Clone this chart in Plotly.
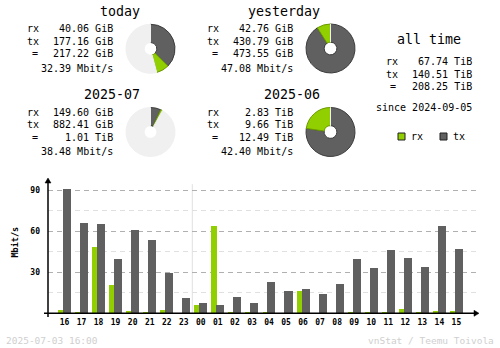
import plotly.graph_objects as go

# ---------------------------------------------------------------- data
hours = ["16", "17", "18", "19", "20", "21", "22", "23", "00", "01", "02", "03",
         "04", "05", "06", "07", "08", "09", "10", "11", "12", "13", "14", "15"]
rx_mbit = [2.4, 1.0, 48.7, 20.9, 1.7, 1.0, 2.4, 0.0, 6.3, 63.9, 1.0, 0.4,
           1.0, 0.0, 16.3, 0.0, 0.0, 1.0, 1.0, 1.0, 3.1, 1.0, 1.7, 1.7]
tx_mbit = [91.0, 66.0, 65.3, 39.7, 61.0, 53.6, 29.7, 11.2, 7.8, 6.3, 11.9, 7.8,
           23.1, 16.3, 17.8, 14.3, 21.7, 39.7, 33.1, 46.3, 40.5, 33.9, 63.9, 47.1]

# summary periods: rx / tx in GiB plus the labels printed next to each donut
period_names = ["today", "yesterday", "2025-07", "2025-06"]
period_rx_gib = [40.06, 42.76, 149.60, 2.83 * 1024]
period_tx_gib = [177.16, 430.79, 882.41, 9.66 * 1024]
period_rx_txt = ["40.06 GiB", "42.76 GiB", "149.60 GiB", "2.83 TiB"]
period_tx_txt = ["177.16 GiB", "430.79 GiB", "882.41 GiB", "9.66 TiB"]
period_sum_txt = ["217.22 GiB", "473.55 GiB", "1.01 TiB", "12.49 TiB"]
period_rate_txt = ["32.39 Mbit/s", "47.08 Mbit/s", "38.48 Mbit/s", "42.40 Mbit/s"]
# each donut is scaled against the larger period of its pair
period_ref = [1, 1, 3, 3]

alltime_rx_txt = "67.74 TiB"
alltime_tx_txt = "140.51 TiB"
alltime_sum_txt = "208.25 TiB"
since_txt = "since 2024-09-05"
stamp_txt = "2025-07-03 16:00"
credit_txt = "vnStat / Teemu Toivola"

# ---------------------------------------------------------------- style
W, H = 500, 348
RX = "#92cf00"
TX = "#606060"
RX_EDGE = "#6b9a00"
TX_EDGE = "#3c3c3c"
EMPTY = "#f0f0f0"
MONO = "DejaVu Sans Mono"


def px(x):
    return x / W


def py(y):
    return 1 - y / H


fig = go.Figure()
ann = []
shapes = []


def text(x, y, s, size=10, xanchor="left", color="#000000", weight="normal"):
    ann.append(dict(x=px(x), y=py(y), xref="paper", yref="paper", text=s,
                    showarrow=False, xanchor=xanchor, yanchor="middle",
                    font=dict(family=MONO, size=size, color=color, weight=weight)))


# ---------------------------------------------------------------- donuts
centers = [(150.5, 48.8), (330.5, 48.5), (150.5, 132.0), (330.5, 132.0)]
R = 24.5
for i, (cx, cy) in enumerate(centers):
    rx_v, tx_v = period_rx_gib[i], period_tx_gib[i]
    r = period_ref[i]
    ref_total = period_rx_gib[r] + period_tx_gib[r]
    rest = max(ref_total - rx_v - tx_v, 0)
    fig.add_trace(go.Pie(
        values=[tx_v, rx_v, rest], sort=False, direction="clockwise", rotation=0,
        hole=0.26, textinfo="none", hoverinfo="skip", showlegend=False,
        marker=dict(colors=[TX, RX, EMPTY],
                    line=dict(color=[TX_EDGE, RX_EDGE, EMPTY], width=1)),
        domain=dict(x=[px(cx - R), px(cx + R)], y=[py(cy + R), py(cy - R)]),
    ))
    # text block to the left of the donut
    text(cx - 8.5, cy - 37, period_names[i], size=13.3, xanchor="right")
    text(cx - 126, cy - 20, "rx")
    text(cx - 126, cy - 7.5, "tx")
    text(cx - 116, cy + 5, "=", xanchor="center")
    text(cx - 35.5, cy - 20, period_rx_txt[i], xanchor="right")
    text(cx - 35.5, cy - 7.5, period_tx_txt[i], xanchor="right")
    text(cx - 35.5, cy + 5, period_sum_txt[i], xanchor="right")
    text(cx - 35.5, cy + 19.5, period_rate_txt[i], xanchor="right")

# ---------------------------------------------------------------- all time
text(428.5, 40, "all time", size=13.3, xanchor="center")
text(384, 62, "rx")
text(384, 74, "tx")
text(392.5, 86.5, "=", xanchor="center")
text(474, 62, alltime_rx_txt, xanchor="right")
text(474, 74, alltime_tx_txt, xanchor="right")
text(474, 86.5, alltime_sum_txt, xanchor="right")
text(474, 108, since_txt, xanchor="right")

# legend squares
for x0, col, edge, lab in [(398, RX, RX_EDGE, "rx"), (440, TX, TX_EDGE, "tx")]:
    shapes.append(dict(type="rect", xref="paper", yref="paper",
                       x0=px(x0), x1=px(x0 + 7), y0=py(140), y1=py(133),
                       fillcolor=col, line=dict(color="#202020", width=1)))
    text(x0 + 10.5, 136, lab)

# footer
text(4, 340, stamp_txt, size=9.5, color="#cfcfcf")
text(496, 340, credit_txt, size=9.5, xanchor="right", color="#cfcfcf")

# ---------------------------------------------------------------- hourly bars
x_idx = list(range(len(hours)))
fig.add_trace(go.Bar(x=x_idx, y=rx_mbit, marker=dict(color=RX, line=dict(width=0)),
                     offset=-0.38, width=0.30, showlegend=False, hoverinfo="skip"))
fig.add_trace(go.Bar(x=x_idx, y=tx_mbit, marker=dict(color=TX, line=dict(width=0)),
                     offset=-0.09, width=0.47, showlegend=False, hoverinfo="skip"))

x_left, x_right = 48.0, 476.0
y_top, y_base = 180.0, 313.3
slot = 17.04
first_center = 64.5
xr = [(x_left - first_center) / slot, (x_right - first_center) / slot]
y_scale = 41.0 / 30.0
yr = [0, (y_base - y_top) / y_scale]

fig.update_layout(
    xaxis=dict(domain=[px(x_left), px(x_right)], range=xr, tickvals=x_idx, ticktext=hours,
               showgrid=False, zeroline=False, showline=False, ticks="",
               tickfont=dict(family=MONO, size=8, color="#000000", weight="bold"),
               ticklabelstandoff=3, fixedrange=True),
    yaxis=dict(domain=[py(y_base), py(y_top)], range=yr, tickvals=[30, 60, 90],
               showgrid=True, gridcolor="#b0b0b0", griddash="5px,4px", gridwidth=1,
               minor=dict(tickvals=[15, 45, 75], showgrid=True, gridcolor="#e0e0e0",
                          griddash="5px,4px", gridwidth=1),
               zeroline=False, showline=False, ticks="",
               tickfont=dict(family=MONO, size=8, color="#000000", weight="bold"),
               ticklabelstandoff=7, fixedrange=True),
    bargap=0, barmode="overlay",
)

# day separator between 23 and 00
shapes.append(dict(type="line", xref="x", yref="y", x0=7.5, x1=7.5, y0=0, y1=94.5,
                   line=dict(color="#e0e0e0", width=1), layer="below"))

# axis lines with arrow heads
shapes.append(dict(type="line", xref="paper", yref="paper", x0=px(48), x1=px(48),
                   y0=py(317), y1=py(181), line=dict(color="#000000", width=1.5)))
shapes.append(dict(type="line", xref="paper", yref="paper", x0=px(44), x1=px(476),
                   y0=py(313.3), y1=py(313.3), line=dict(color="#000000", width=1.5)))
shapes.append(dict(type="path", xref="paper", yref="paper",
                   path=f"M {px(45)},{py(183)} L {px(51)},{py(183)} L {px(48)},{py(178)} Z",
                   fillcolor="#000000", line=dict(color="#000000", width=0.5)))
shapes.append(dict(type="path", xref="paper", yref="paper",
                   path=f"M {px(474)},{py(310.3)} L {px(474)},{py(316.3)} L {px(479)},{py(313.3)} Z",
                   fillcolor="#000000", line=dict(color="#000000", width=0.5)))

# y axis title
ann.append(dict(x=px(14), y=py(242.5), xref="paper", yref="paper", text="Mbit/s",
                textangle=-90, showarrow=False, xanchor="center", yanchor="middle",
                font=dict(family=MONO, size=8.5, color="#000000", weight="bold")))

fig.update_layout(
    width=W, height=H, margin=dict(l=0, r=0, t=0, b=0),
    paper_bgcolor="#ffffff", plot_bgcolor="#ffffff",
    annotations=ann, shapes=shapes, showlegend=False,
)

fig.write_html("out.html", config=dict(displayModeBar=False))
